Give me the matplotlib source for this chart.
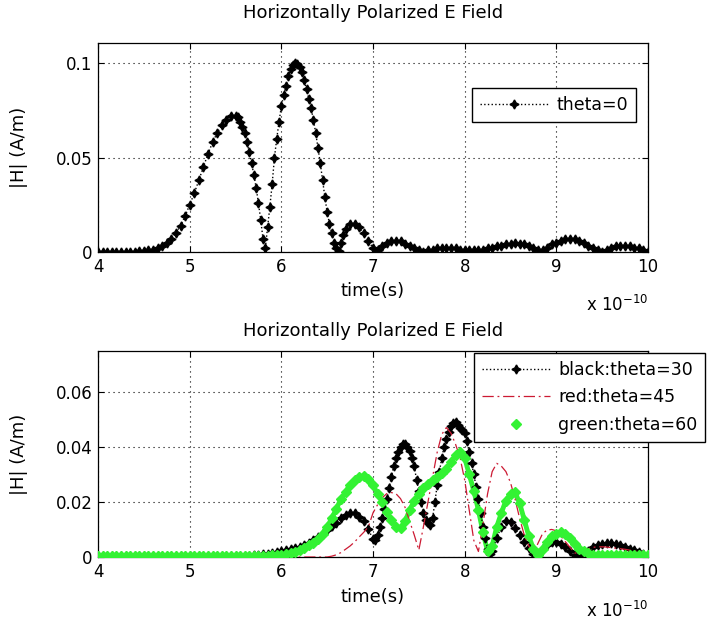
import numpy as np
import matplotlib
matplotlib.use("Agg")
import matplotlib.pyplot as plt

# time axis in units of 1e-10 s
# coarse samples every 0.05, denser (0.025) where the curves are steep
t = np.round(np.linspace(4.0, 10.0, 121), 3)
t_top = np.round(np.concatenate([np.linspace(4.0, 5.45, 30),
                                 np.linspace(5.5, 6.675, 48),
                                 np.linspace(6.7, 10.0, 67)]), 3)
t_black = np.round(np.concatenate([np.linspace(4.0, 6.95, 60),
                                   np.linspace(7.0, 8.275, 52),
                                   np.linspace(8.3, 10.0, 35)]), 3)

# theta = 0 (top panel)
h_theta0 = [
    # 4.00 .. 5.45
    0, 0, 0, 0, 0, 0, 0, 0, 0.0002, 0.0003,
    0.0005, 0.0008, 0.0012, 0.002, 0.003, 0.0045, 0.007, 0.010, 0.014, 0.019,
    0.025, 0.031, 0.038, 0.045, 0.052, 0.058, 0.063, 0.067, 0.070, 0.072,
    # 5.500 .. 6.675
    0.072, 0.0715, 0.069, 0.066, 0.063, 0.058, 0.053, 0.047, 0.041, 0.034,
    0.026, 0.017, 0.007, 0.002, 0.013, 0.024, 0.036, 0.050, 0.060, 0.069,
    0.077, 0.083, 0.088, 0.093, 0.097, 0.099, 0.100, 0.0995, 0.098, 0.095,
    0.091, 0.086, 0.081, 0.076, 0.070, 0.063, 0.055, 0.047, 0.038, 0.029,
    0.021, 0.015, 0.010, 0.005, 0.002, 0.0005, 0.005, 0.009,
    # 6.70 .. 10.00
    0.012, 0.015, 0.015, 0.013, 0.010, 0.006,
    0.002, 0.001, 0.003, 0.005, 0.006, 0.006, 0.006, 0.004, 0.003, 0.002,
    0.001, 0.0, 0.001, 0.001, 0.002, 0.002, 0.002, 0.002, 0.002, 0.001,
    0.001, 0.001, 0.001, 0.001, 0.001, 0.002, 0.002, 0.003, 0.003, 0.004,
    0.004, 0.005, 0.004, 0.004, 0.003, 0.002, 0.001, 0.001, 0.002, 0.004,
    0.005, 0.006, 0.007, 0.007, 0.007, 0.006, 0.005, 0.003, 0.002, 0.001,
    0.0, 0.001, 0.002, 0.003, 0.003, 0.003, 0.003, 0.002, 0.002, 0.001,
    0.0,
]

# theta = 30 (black), bottom panel
h_theta30 = [0.0002] * 33 + [
    # 5.65 .. 6.95
    0.0004, 0.0006, 0.0008, 0.001, 0.0012, 0.0015, 0.0018, 0.002, 0.0024,
    0.0028, 0.0032, 0.0036, 0.0042, 0.005, 0.006, 0.0072, 0.0085, 0.0098,
    0.0112, 0.0125, 0.014, 0.0152, 0.016, 0.0158, 0.0145, 0.013, 0.010,
    # 7.000 .. 8.275
    0.0065, 0.006, 0.008, 0.011, 0.014, 0.0175, 0.021, 0.025, 0.029, 0.033,
    0.036, 0.038, 0.040, 0.041, 0.041, 0.040, 0.0385, 0.036, 0.033, 0.028,
    0.024, 0.020, 0.016, 0.0135, 0.0122, 0.0115, 0.014, 0.020, 0.026, 0.031,
    0.036, 0.040, 0.043, 0.0455, 0.0475, 0.0485, 0.049, 0.048, 0.047, 0.046,
    0.045, 0.042, 0.038, 0.034, 0.030, 0.0255, 0.021, 0.016, 0.011, 0.007,
    0.003, 0.001,
    # 8.30 .. 10.00
    0.002, 0.007, 0.011, 0.013, 0.0128, 0.0105, 0.008, 0.0055, 0.0032, 0.0012,
    0.0, 0.0028, 0.0045, 0.0053, 0.0055, 0.0047, 0.0035, 0.002, 0.0008, 0.0,
    0.001, 0.0022, 0.0035, 0.0043, 0.0048, 0.005, 0.005, 0.0048, 0.0043, 0.0037,
    0.003, 0.0024, 0.0018, 0.0012, 0.0008,
]

# theta = 45 (red)
h_theta45 = [0.0] * 51 + [
    0.0003, 0.0008, 0.0016, 0.0028, 0.004, 0.0055, 0.0073, 0.009, 0.011,
    0.016, 0.019, 0.0215, 0.023, 0.0234, 0.023, 0.0212, 0.018, 0.013, 0.008,
    0.0025, 0.011, 0.020, 0.029, 0.038, 0.0445, 0.047, 0.045, 0.041, 0.036,
    0.028, 0.017, 0.006, 0.002, 0.012, 0.023, 0.031, 0.034, 0.033, 0.031,
    0.027, 0.021, 0.014, 0.008, 0.004, 0.0013, 0.005, 0.0085, 0.0098, 0.010,
    0.0095, 0.0075, 0.0055, 0.0035, 0.0015, 0.0012, 0.0022, 0.003, 0.0035, 0.0037,
    0.0037, 0.0036, 0.0034, 0.0032, 0.003, 0.0028, 0.0025, 0.0022, 0.0019, 0.0016,
    0.0013,
]

# theta = 60 (green)
h_theta60 = [0.0005] * 33 + [
    0.0005, 0.0005, 0.0005, 0.0005, 0.0005, 0.0006, 0.0007,
    0.0008, 0.001, 0.0013, 0.0018, 0.0025, 0.0033, 0.0042, 0.0052, 0.0065, 0.0085,
    0.011, 0.014, 0.0175, 0.021, 0.0235, 0.0262, 0.028, 0.029, 0.0295, 0.0285,
    0.026, 0.023, 0.020, 0.0165, 0.0135, 0.011, 0.0105, 0.013, 0.017, 0.0205,
    0.023, 0.025, 0.0265, 0.0278, 0.029, 0.0305, 0.032, 0.0345, 0.037, 0.038,
    0.036, 0.030, 0.024, 0.017, 0.009, 0.002, 0.004, 0.011, 0.016, 0.0205,
    0.023, 0.0235, 0.0195, 0.0135, 0.0075, 0.003, 0.0008, 0.003, 0.0055, 0.0075,
    0.0085, 0.009, 0.0083, 0.0068, 0.0048, 0.003, 0.002, 0.0013, 0.0009, 0.0007,
    0.0008,
] + [0.0008] * 10

title = "Horizontally Polarized E Field"
W, H = 707, 621
FS_TICK = 12
FS_TEXT = 13
FS_LEG = 12.5
RED = (0.8, 0.1, 0.2)
GREEN = (0.2, 0.95, 0.2)

plt.rcParams["font.family"] = ["DejaVu Sans"]

fig = plt.figure(figsize=(W / 100, H / 100), dpi=100)
ax1 = fig.add_axes([98 / W, 1 - 252 / H, 550 / W, 209 / H])
ax2 = fig.add_axes([98 / W, 1 - 557 / H, 550 / W, 206 / H])


def style_axes(ax, yticks, ytop):
    ax.set_xlim(4, 10)
    ax.set_ylim(0, ytop)
    ax.set_xticks(range(4, 11), [str(v) for v in range(4, 11)])
    ax.set_yticks(yticks, [f"{v:g}" for v in yticks])
    ax.grid(True, color="black", linestyle=(0, (1, 3.5)), linewidth=0.8)
    ax.tick_params(direction="in", top=True, right=True, length=4, width=0.8,
                   labelsize=FS_TICK, pad=4)
    for sp in ax.spines.values():
        sp.set_linewidth(0.9)


star4 = (4, 1, 0)

# top panel
ax1.plot(t_top, h_theta0, color="black", linestyle=":", linewidth=1.0,
         marker=star4, markersize=6.5, label="theta=0")
style_axes(ax1, [0, 0.05, 0.1], 0.1106)
ax1.legend(loc="upper left", bbox_to_anchor=(472 / W, 1 - 88 / H),
           bbox_transform=fig.transFigure, borderaxespad=0, fancybox=False,
           edgecolor="black", framealpha=1, handlelength=3.9, fontsize=FS_LEG,
           borderpad=0.45, handletextpad=0.5)

# bottom panel
ax2.plot(t, h_theta60, color=GREEN, linewidth=3.5, zorder=2)
ax2.plot(t_black, h_theta30, color="black", linestyle=":", linewidth=1.0,
         marker=star4, markersize=6.5, label="black:theta=30", zorder=3)
ax2.plot(t, h_theta45, color=RED, linestyle=(0, (9, 3, 1.5, 3)), linewidth=0.9,
         label="red:theta=45", zorder=4)
ax2.plot(t, h_theta60, color=GREEN, linestyle="none", marker="D",
         markersize=5, label="green:theta=60", zorder=5)
style_axes(ax2, [0, 0.02, 0.04, 0.06], 0.0748)
handles, labels = ax2.get_legend_handles_labels()
leg = ax2.legend(handles, labels, loc="upper left",
                 bbox_to_anchor=(474 / W, 1 - 353 / H),
                 bbox_transform=fig.transFigure, borderaxespad=0, fancybox=False,
                 edgecolor="black", framealpha=1, handlelength=3.9,
                 fontsize=FS_LEG, borderpad=0.45, labelspacing=0.55,
                 handletextpad=0.5)
leg.set_clip_on(False)

# text
for yc in (13, 331):
    fig.text(373 / W, 1 - yc / H, title, ha="center", va="center", fontsize=FS_TEXT)
for yc in (291, 597):
    fig.text(373 / W, 1 - yc / H, "time(s)", ha="center", va="center", fontsize=FS_TEXT)
for yc in (305, 611):
    fig.text(648 / W, 1 - yc / H, r"x 10$^{-10}$", ha="right", va="center",
             fontsize=FS_TICK)
for yc in (147, 454):
    fig.text(19 / W, 1 - yc / H, "|H| (A/m)", ha="center", va="center",
             rotation=90, fontsize=FS_TEXT)

fig.savefig("out.png", dpi=100)
